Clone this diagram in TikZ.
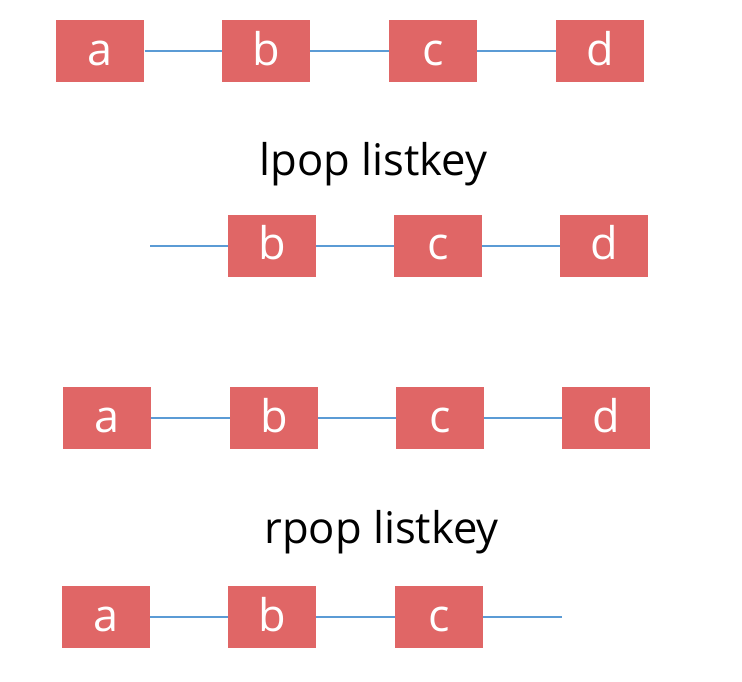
\documentclass[tikz,border=0pt]{standalone}
\usepackage{fontspec}
\setmainfont{Open Sans}
\usepackage{tikz}
\usetikzlibrary{positioning}
\usepackage{xcolor}
\definecolor{cellRed}{HTML}{E06666}
\definecolor{linkBlue}{HTML}{5B9BD5}

\begin{document}
\begin{tikzpicture}[
      every node/.style={font=\fontsize{32}{38}\selectfont},
      cell/.style={fill=cellRed, text=white, minimum width=2.2cm,
                   minimum height=1.55cm, inner sep=0pt,
                   text height=0.9cm, text depth=0.2cm},
      link/.style={linkBlue, line width=1.5pt},
      cmd/.style={font=\fontsize{31}{37}\selectfont, anchor=base},
    ]
      \useasboundingbox (0,0) rectangle (18.55,-17.05);

      % full list
      \node[cell] (a1) at (2.51,-1.28)  {a};
      \node[cell] (b1) at (6.65,-1.28)  {b};
      \node[cell] (c1) at (10.82,-1.28) {c};
      \node[cell] (d1) at (15.0,-1.28)  {d};
      \draw[link] (a1) -- (b1) (b1) -- (c1) (c1) -- (d1);

      \node[cmd] (lpop) at (9.33,-4.375) {lpop listkey};

      % after lpop
      \coordinate (head2) at (3.75,-6.14);
      \node[cell] (b2) at (6.8,-6.14)   {b};
      \node[cell] (c2) at (10.95,-6.14) {c};
      \node[cell] (d2) at (15.11,-6.14) {d};
      \draw[link] (head2) -- (b2) (b2) -- (c2) (c2) -- (d2);

      % full list again
      \node[cell] (a3) at (2.68,-10.45)  {a};
      \node[cell] (b3) at (6.85,-10.45)  {b};
      \node[cell] (c3) at (11.0,-10.45)  {c};
      \node[cell] (d3) at (15.16,-10.45) {d};
      \draw[link] (a3) -- (b3) (b3) -- (c3) (c3) -- (d3);

      \node[cmd] (rpop) at (9.54,-13.58) {rpop listkey};

      % after rpop
      \node[cell] (a4) at (2.65,-15.43)  {a};
      \node[cell] (b4) at (6.8,-15.43)   {b};
      \node[cell] (c4) at (10.97,-15.43) {c};
      \coordinate (tail4) at (14.05,-15.43);
      \draw[link] (a4) -- (b4) (b4) -- (c4) (c4) -- (tail4);
    \end{tikzpicture}
\end{document}
